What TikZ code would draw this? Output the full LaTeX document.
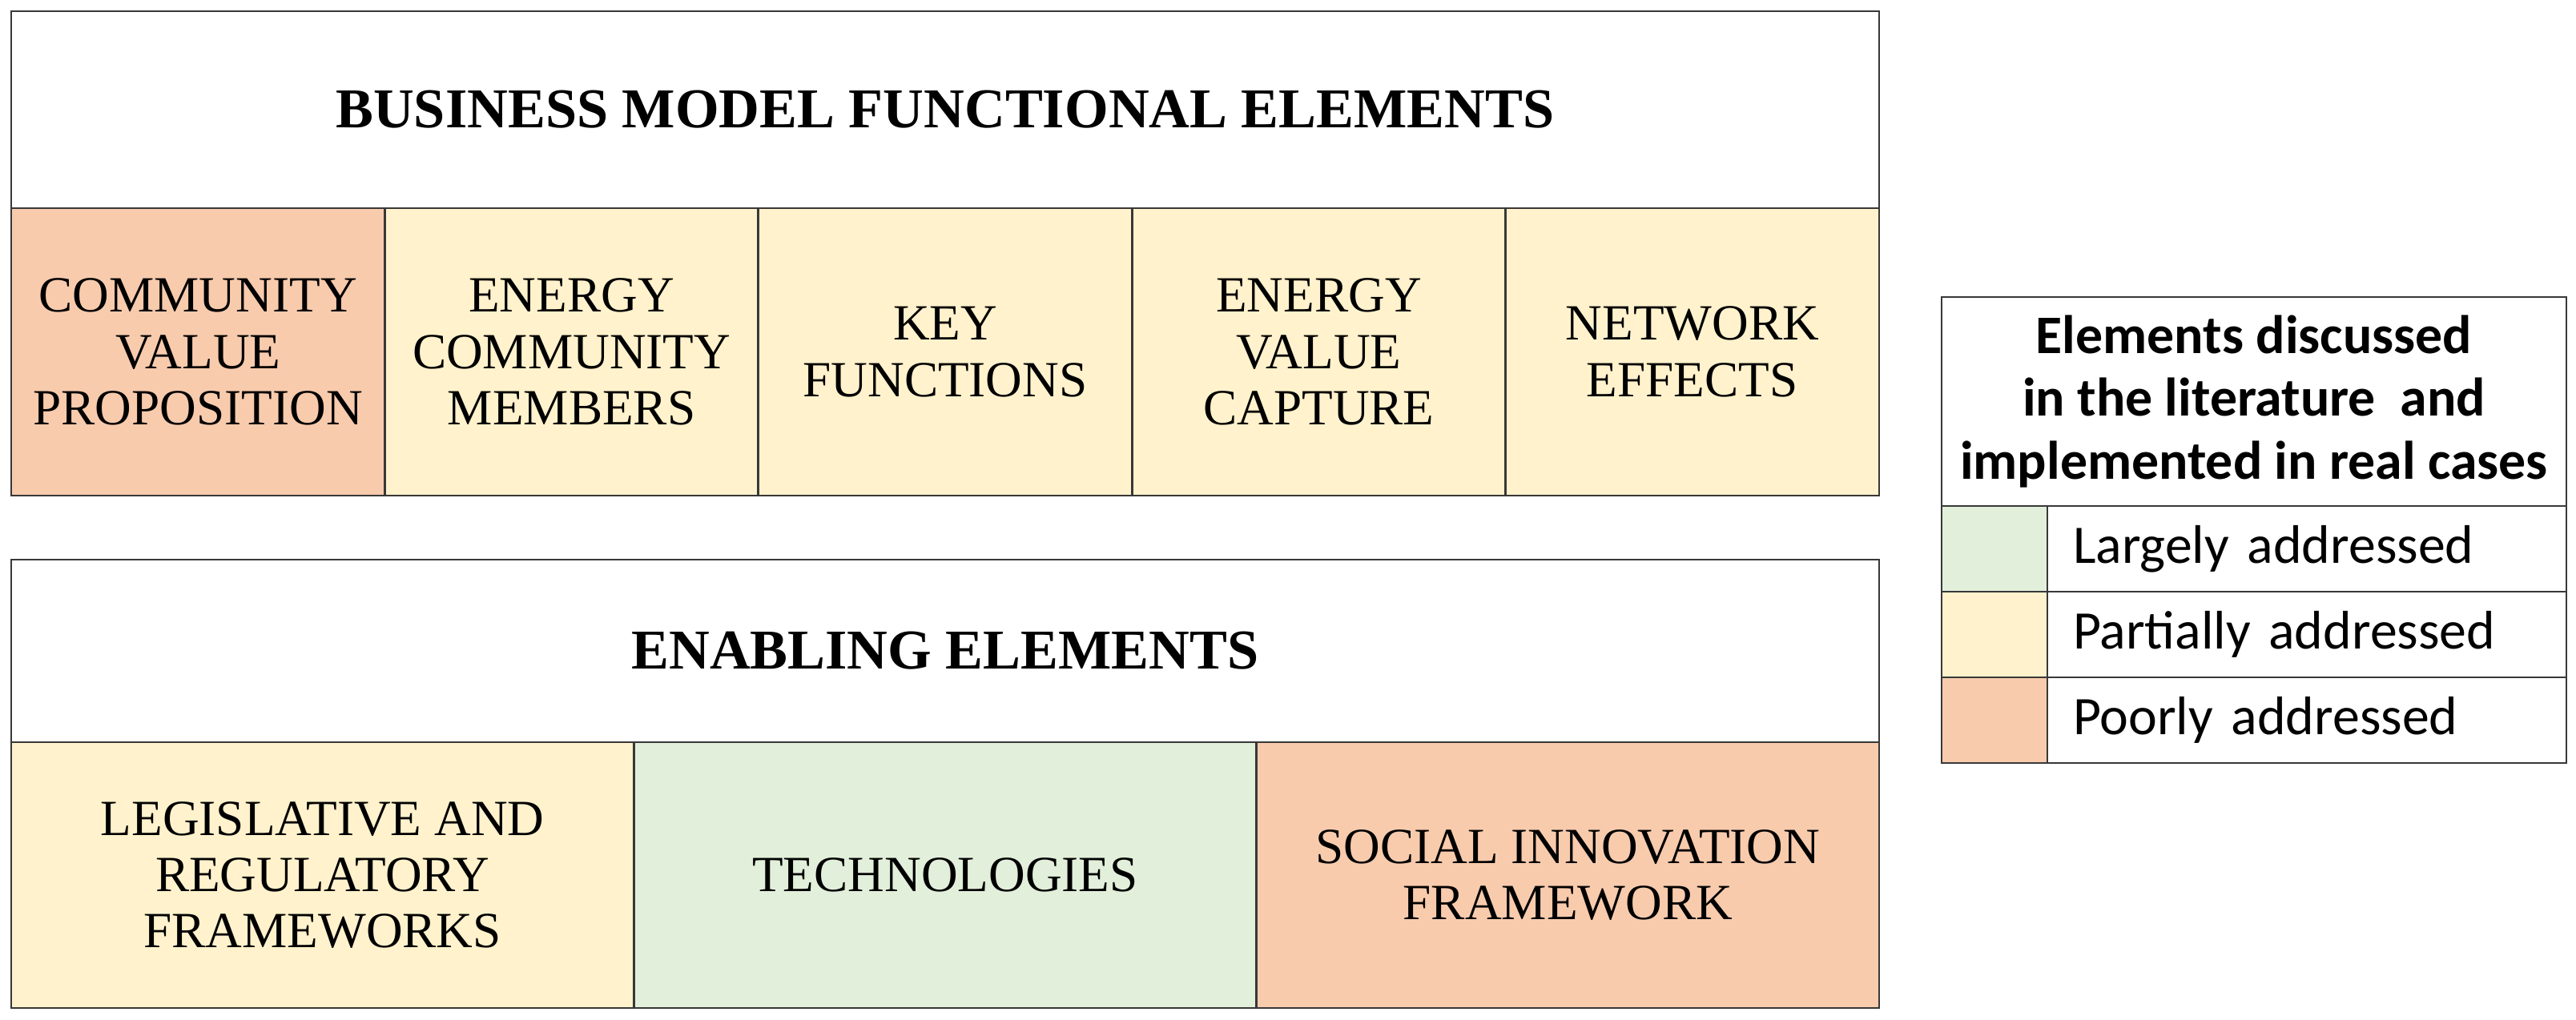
\documentclass[tikz,border=0pt]{standalone}
\usepackage{fontspec}
\setmainfont{Liberation Serif}
\newfontfamily\legendfont{Carlito}
\usetikzlibrary{positioning}
\definecolor{poorly}{HTML}{F8CBAD}
\definecolor{partially}{HTML}{FFF2CC}
\definecolor{largely}{HTML}{E2EFDA}
\definecolor{edge}{HTML}{383838}

\begin{document}
\begin{tikzpicture}[
  node distance=0pt,
  box/.style={draw=edge, line width=0.8pt, outer sep=0pt, inner sep=0pt, align=center},
  head/.style={box, minimum width=23.32cm, font=\fontsize{20}{24}\selectfont\bfseries},
  bmcell/.style={box, minimum width=4.664cm, minimum height=3.59cm, font=\fontsize{18}{20}\selectfont},
  encell/.style={box, minimum width=7.7733cm, minimum height=3.32cm, font=\fontsize{18}{20}\selectfont},
  swatch/.style={box, minimum width=1.32cm, minimum height=1.07cm},
  keytext/.style={box, text width=5.84cm, inner xsep=0.32cm, minimum height=1.07cm, align=left, font=\legendfont\fontsize{19.3}{22}\selectfont}
]
\useasboundingbox (0,0) rectangle (32.16,12.74);

% business model functional elements
\node[head, minimum height=2.46cm, anchor=north west] (bmhead) at (0.14,12.60) {BUSINESS MODEL FUNCTIONAL ELEMENTS};
\node[bmcell, fill=poorly, anchor=north west] (cvp) at (bmhead.south west) {COMMUNITY\\VALUE\\PROPOSITION};
\node[bmcell, fill=partially, right=of cvp] (ecm) {ENERGY\\COMMUNITY\\MEMBERS};
\node[bmcell, fill=partially, right=of ecm] (kf) {KEY\\FUNCTIONS};
\node[bmcell, fill=partially, right=of kf] (evc) {ENERGY\\VALUE\\CAPTURE};
\node[bmcell, fill=partially, right=of evc] (ne) {NETWORK\\EFFECTS};

% enabling elements
\node[head, minimum height=2.28cm, anchor=north west] (enhead) at (0.14,5.75) {ENABLING ELEMENTS};
\node[encell, fill=partially, anchor=north west] (lrf) at (enhead.south west) {LEGISLATIVE AND\\REGULATORY\\FRAMEWORKS};
\node[encell, fill=largely, right=of lrf] (tech) {TECHNOLOGIES};
\node[encell, fill=poorly, right=of tech] (sif) {SOCIAL INNOVATION\\FRAMEWORK};

% legend
\node[box, minimum width=7.8cm, minimum height=2.61cm, anchor=north west, font=\legendfont\bfseries\fontsize{19.3}{22.4}\selectfont] (keyhead) at (24.24,9.03) {Elements discussed\\in the literature~ and\\implemented in real cases};
\node[swatch, fill=largely, anchor=north west] (sw1) at (keyhead.south west) {};
\node[keytext, right=of sw1] (kt1) {Largely addressed};
\node[swatch, fill=partially, below=of sw1] (sw2) {};
\node[keytext, right=of sw2] (kt2) {Partially addressed};
\node[swatch, fill=poorly, below=of sw2] (sw3) {};
\node[keytext, right=of sw3] (kt3) {Poorly addressed};
\end{tikzpicture}
\end{document}
